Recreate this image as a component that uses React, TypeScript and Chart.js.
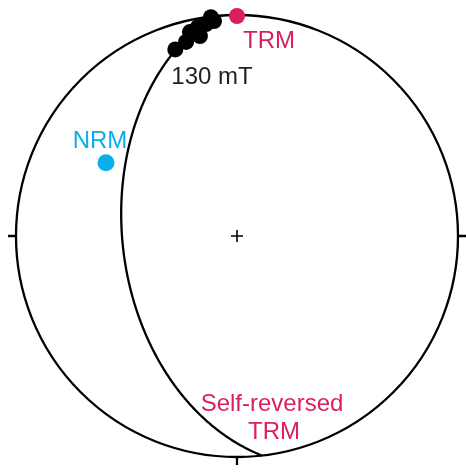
import React, { useEffect, useRef } from "react";
import { Chart, registerables } from "chart.js";

Chart.register(...registerables);

// Demagnetisation steps (declination / inclination, degrees), lower hemisphere
const demagDec = [341.7, 345.3, 347.0, 349.5, 349.4, 351.7, 353.9, 353.2];
const demagInc = [12.1, 10.1, 5.9, 8.8, 4.3, 3.5, 2.5, 0.3];
// NRM direction
const nrmDec = [299.2];
const nrmInc = [32.6];
// TRM direction
const trmDec = [0];
const trmInc = [0.5];
// Remagnetisation great circle (dip direction, dip)
const circleDipDir = 263.5;
const circleDip = 47;
// Text labels
const labelTexts = ["TRM", "130 mT", "NRM", "Self-reversed", "TRM"];

const D2R = Math.PI / 180;

function project(dec: number, inc: number) {
  const r = Math.SQRT2 * Math.sin(((90 - inc) / 2) * D2R);
  return { x: r * Math.sin(dec * D2R), y: r * Math.cos(dec * D2R) };
}

function greatCirclePoints(dipDir: number, dip: number) {
  const s = (dipDir + 90) % 360; // strike
  const sv = [Math.cos(s * D2R), Math.sin(s * D2R), 0];
  const dv = [
    Math.cos(dipDir * D2R) * Math.cos(dip * D2R),
    Math.sin(dipDir * D2R) * Math.cos(dip * D2R),
    Math.sin(dip * D2R),
  ];
  const pts: { x: number; y: number }[] = [];
  for (let t = 0; t <= 180; t += 1) {
    const c = Math.cos(t * D2R);
    const sn = Math.sin(t * D2R);
    const n = c * sv[0] + sn * dv[0];
    const e = c * sv[1] + sn * dv[1];
    const d = c * sv[2] + sn * dv[2];
    const h = Math.sqrt(n * n + e * e);
    const inc = Math.atan2(d, h) / D2R;
    let dec = Math.atan2(e, n) / D2R;
    if (dec < 0) dec += 360;
    pts.push(project(dec, inc));
  }
  return pts;
}

const FONT = '24px "Liberation Sans", Arial, Helvetica, sans-serif';
const PINK = "#db1f5e";
const BLUE = "#0aaeea";

const netPlugin = {
  id: "net",
  beforeDatasetsDraw(chart: any) {
    const { ctx, scales } = chart;
    const xs = scales.x;
    const ys = scales.y;
    const cx = xs.getPixelForValue(0);
    const cy = ys.getPixelForValue(0);
    const R = xs.getPixelForValue(1) - cx;
    ctx.save();
    ctx.strokeStyle = "#000";
    ctx.lineWidth = 2.3;
    ctx.beginPath();
    ctx.arc(cx, cy, R, 0, Math.PI * 2);
    ctx.stroke();
    const tl = 8;
    ctx.beginPath();
    ctx.moveTo(cx - R - tl, cy);
    ctx.lineTo(cx - R, cy);
    ctx.moveTo(cx + R, cy);
    ctx.lineTo(cx + R + tl, cy);
    ctx.moveTo(cx, cy + R);
    ctx.lineTo(cx, cy + R + tl);
    ctx.stroke();
    ctx.lineWidth = 1.6;
    ctx.beginPath();
    ctx.moveTo(cx - 6, cy);
    ctx.lineTo(cx + 6, cy);
    ctx.moveTo(cx, cy - 6);
    ctx.lineTo(cx, cy + 6);
    ctx.stroke();
    ctx.restore();
  },
  afterDatasetsDraw(chart: any) {
    const { ctx, scales } = chart;
    const xs = scales.x;
    const ys = scales.y;
    const px = (p: { x: number; y: number }) => ({
      x: xs.getPixelForValue(p.x),
      y: ys.getPixelForValue(p.y),
    });
    const trm = px(project(trmDec[0], trmInc[0]));
    const nrm = px(project(nrmDec[0], nrmInc[0]));
    const last = px(project(demagDec[0], demagInc[0]));
    const gc = greatCirclePoints(circleDipDir, circleDip);
    const bottom = px(gc[gc.length - 1]);
    ctx.save();
    ctx.font = FONT;
    ctx.textBaseline = "alphabetic";
    ctx.fillStyle = PINK;
    ctx.textAlign = "left";
    ctx.fillText(labelTexts[0], trm.x + 6, trm.y + 32);
    ctx.fillStyle = "#231f20";
    ctx.fillText(labelTexts[1], last.x - 4, last.y + 35);
    ctx.fillStyle = BLUE;
    ctx.textAlign = "center";
    ctx.fillText(labelTexts[2], nrm.x - 6, nrm.y - 15);
    ctx.fillStyle = PINK;
    ctx.fillText(labelTexts[3], bottom.x + 10, bottom.y - 45);
    ctx.fillText(labelTexts[4], bottom.x + 12, bottom.y - 17);
    ctx.restore();
  },
};

export default function App() {
  const ref = useRef<HTMLCanvasElement | null>(null);
  useEffect(() => {
    if (!ref.current) return;
    const demag = demagDec.map((d, i) => project(d, demagInc[i]));
    const nrm = nrmDec.map((d, i) => project(d, nrmInc[i]));
    const trm = trmDec.map((d, i) => project(d, trmInc[i]));
    const gc = greatCirclePoints(circleDipDir, circleDip);
    const chart = new Chart(ref.current, {
      type: "scatter",
      data: {
        datasets: [
          {
            data: trm,
            backgroundColor: PINK,
            borderWidth: 0,
            pointRadius: 8,
            order: 1,
            clip: false,
          },
          {
            data: nrm,
            backgroundColor: BLUE,
            borderWidth: 0,
            pointRadius: 8.5,
            order: 1,
            clip: false,
          },
          {
            data: demag,
            backgroundColor: "#000",
            borderWidth: 0,
            pointRadius: 8,
            order: 2,
            clip: false,
          },
          {
            type: "line",
            data: gc,
            showLine: true,
            borderColor: "#000",
            borderWidth: 2.3,
            pointRadius: 0,
            fill: false,
            tension: 0.001,
            order: 5,
            clip: false,
          } as any,
        ],
      },
      options: {
        animation: false,
        responsive: false,
        maintainAspectRatio: false,
        devicePixelRatio: 1,
        layout: { padding: 0, autoPadding: false },
        events: [],
        plugins: { legend: { display: false }, tooltip: { enabled: false } },
        scales: {
          x: { type: "linear", display: false, min: -1.0724, max: 1.0362 },
          y: { type: "linear", display: false, min: -1.086, max: 1.0679 },
        },
      },
      plugins: [netPlugin],
    });
    return () => chart.destroy();
  }, []);
  return (
    <div style={{ position: "absolute", left: 0, top: 0, width: 466, height: 476, background: "#fff" }}>
      <canvas ref={ref} width={466} height={476} style={{ display: "block" }} />
    </div>
  );
}
